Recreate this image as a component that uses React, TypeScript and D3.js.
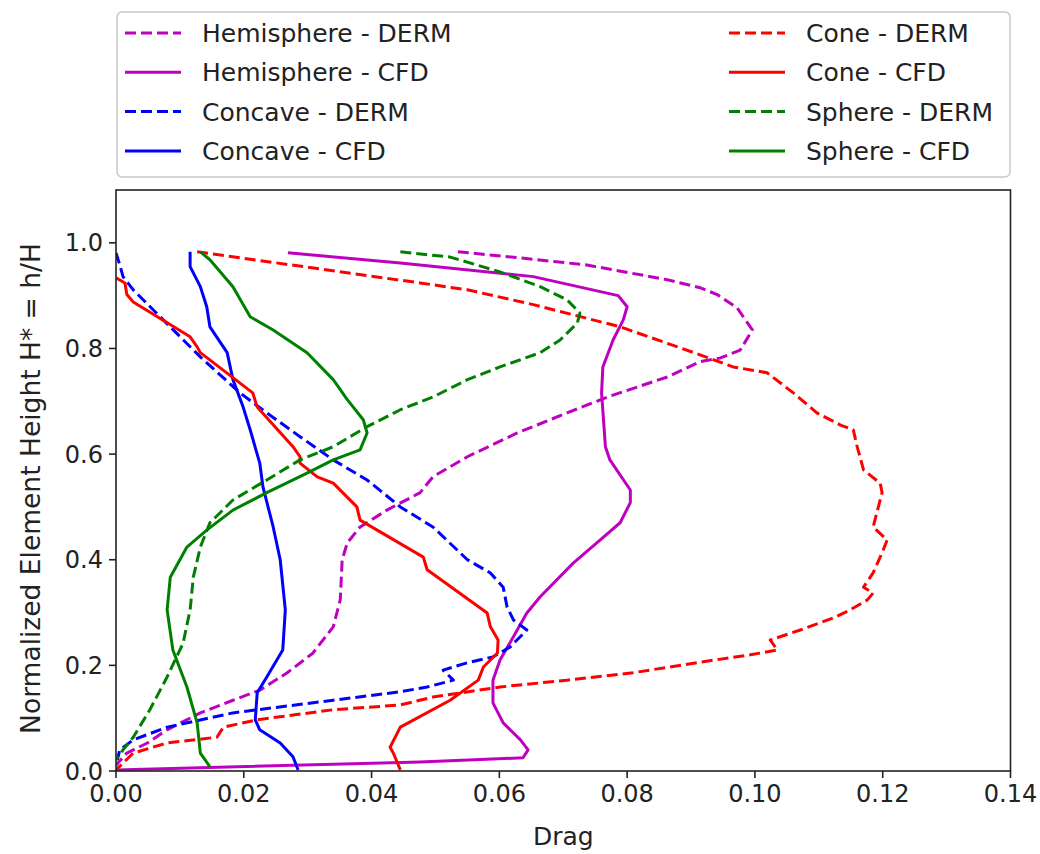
import React from "react";
import * as d3 from "d3";

type P = [number, number];

const xTicks = [0, 0.02, 0.04, 0.06, 0.08, 0.1, 0.12, 0.14];
const yTicks = [0, 0.2, 0.4, 0.6, 0.8, 1.0];

const hemisphereDERM: P[] = [
  [0.0535, 0.983], [0.0628, 0.972], [0.0737, 0.958], [0.0863, 0.93], [0.0914, 0.915],
  [0.0941, 0.902], [0.0972, 0.877], [0.0996, 0.835], [0.0977, 0.797], [0.0946, 0.782],
  [0.0914, 0.775], [0.0863, 0.746], [0.0769, 0.708], [0.0706, 0.678], [0.0628, 0.64],
  [0.055, 0.595], [0.0496, 0.557], [0.0476, 0.527], [0.0424, 0.494], [0.0382, 0.462],
  [0.0362, 0.432], [0.0354, 0.4], [0.0351, 0.324], [0.034, 0.273], [0.0308, 0.223],
  [0.0268, 0.186], [0.0225, 0.153], [0.0183, 0.134], [0.0132, 0.11], [0.008, 0.078],
  [0.0049, 0.053], [0.0017, 0.034], [0.0, 0.011],
];

const hemisphereCFD: P[] = [
  [0.0, 0.002], [0.0476, 0.017], [0.0637, 0.025], [0.0645, 0.04], [0.0633, 0.059],
  [0.0606, 0.091], [0.059, 0.129], [0.059, 0.172], [0.0601, 0.21], [0.0622, 0.254],
  [0.0643, 0.299], [0.0664, 0.33], [0.0716, 0.394], [0.0758, 0.4375], [0.0789, 0.47],
  [0.0805, 0.508], [0.0805, 0.532], [0.0773, 0.589], [0.0766, 0.614], [0.076, 0.716],
  [0.0762, 0.765], [0.0778, 0.816], [0.0794, 0.854], [0.08, 0.879], [0.0786, 0.9],
  [0.0653, 0.936], [0.0445, 0.962], [0.0269, 0.981],
];

const concaveDERM: P[] = [
  [0.0, 0.981], [0.0006, 0.958], [0.0011, 0.936], [0.0027, 0.911], [0.0074, 0.854],
  [0.0132, 0.784], [0.0194, 0.716], [0.0236, 0.678], [0.0288, 0.633], [0.034, 0.589],
  [0.0393, 0.551], [0.0445, 0.5], [0.0496, 0.462], [0.055, 0.4], [0.0586, 0.375],
  [0.0606, 0.348], [0.0612, 0.311], [0.0622, 0.286], [0.0643, 0.267], [0.0617, 0.235],
  [0.059, 0.216], [0.055, 0.205], [0.0512, 0.191], [0.0528, 0.172], [0.0487, 0.159],
  [0.0445, 0.15], [0.034, 0.134], [0.0183, 0.11], [0.008, 0.083], [0.0027, 0.059],
  [0.0006, 0.04], [0.0002, 0.021],
];

const concaveCFD: P[] = [
  [0.0116, 0.983], [0.0116, 0.955], [0.0132, 0.917], [0.0142, 0.879], [0.0147, 0.841],
  [0.0174, 0.792], [0.0183, 0.741], [0.0199, 0.689], [0.021, 0.646], [0.0225, 0.583],
  [0.023, 0.538], [0.0246, 0.462], [0.0257, 0.4], [0.0265, 0.305], [0.0261, 0.229],
  [0.0236, 0.178], [0.0221, 0.148], [0.0218, 0.097], [0.0225, 0.078], [0.0257, 0.053],
  [0.0277, 0.027], [0.0285, 0.002],
];

const coneDERM: P[] = [
  [0.0127, 0.983], [0.0476, 0.924], [0.055, 0.911], [0.0653, 0.883], [0.0789, 0.841],
  [0.0914, 0.788], [0.0966, 0.765], [0.1019, 0.754], [0.106, 0.716], [0.1097, 0.678],
  [0.1134, 0.655], [0.1154, 0.646], [0.116, 0.614], [0.117, 0.57], [0.1196, 0.545],
  [0.1199, 0.527], [0.1185, 0.462], [0.1207, 0.4375], [0.1199, 0.413], [0.1185, 0.375],
  [0.117, 0.348], [0.1185, 0.337], [0.1176, 0.324], [0.1149, 0.305], [0.1123, 0.29],
  [0.1071, 0.267], [0.1024, 0.248], [0.1035, 0.229], [0.0993, 0.22], [0.0914, 0.206],
  [0.0809, 0.186], [0.0706, 0.172], [0.0601, 0.159], [0.0496, 0.14], [0.0445, 0.125],
  [0.034, 0.116], [0.0221, 0.097], [0.0168, 0.083], [0.0158, 0.064], [0.008, 0.053],
  [0.0027, 0.034], [0.0, 0.002],
];

const coneCFD: P[] = [
  [0.0, 0.934], [0.0014, 0.924], [0.0017, 0.902], [0.0027, 0.888], [0.0116, 0.822],
  [0.0127, 0.803], [0.0132, 0.792], [0.0214, 0.716], [0.0221, 0.689], [0.0277, 0.614],
  [0.0288, 0.595], [0.0288, 0.583], [0.0315, 0.557], [0.034, 0.545], [0.0377, 0.5],
  [0.0382, 0.475], [0.0481, 0.405], [0.0487, 0.381], [0.0581, 0.299], [0.0586, 0.273],
  [0.0598, 0.248], [0.0597, 0.2235], [0.0575, 0.197], [0.0567, 0.172], [0.0523, 0.134],
  [0.0445, 0.083], [0.0429, 0.045], [0.0434, 0.034], [0.0445, 0.002],
];

const sphereDERM: P[] = [
  [0.0445, 0.983], [0.0523, 0.973], [0.0601, 0.945], [0.0664, 0.917], [0.0706, 0.892],
  [0.0726, 0.867], [0.0722, 0.848], [0.0695, 0.816], [0.0664, 0.792], [0.0601, 0.765],
  [0.055, 0.741], [0.0496, 0.708], [0.0445, 0.684], [0.0393, 0.652], [0.034, 0.614],
  [0.0288, 0.589], [0.0236, 0.551], [0.0183, 0.513], [0.0147, 0.47], [0.0132, 0.424],
  [0.0121, 0.367], [0.0116, 0.305], [0.0105, 0.242], [0.008, 0.178], [0.0053, 0.116],
  [0.0027, 0.064], [0.0011, 0.04], [0.0, 0.021],
];

const sphereCFD: P[] = [
  [0.0132, 0.983], [0.0147, 0.968], [0.0183, 0.917], [0.021, 0.86], [0.0246, 0.835],
  [0.0299, 0.792], [0.034, 0.741], [0.0362, 0.703], [0.0387, 0.665], [0.0393, 0.64],
  [0.0382, 0.608], [0.034, 0.589], [0.0299, 0.564], [0.0236, 0.527], [0.0183, 0.494],
  [0.0142, 0.456], [0.0111, 0.424], [0.0085, 0.367], [0.008, 0.305], [0.0089, 0.229],
  [0.0111, 0.159], [0.0127, 0.091], [0.0132, 0.034], [0.0147, 0.008],
];

const seriesLabels = [
  "Hemisphere - DERM", "Hemisphere - CFD", "Concave - DERM", "Concave - CFD",
  "Cone - DERM", "Cone - CFD", "Sphere - DERM", "Sphere - CFD",
];
const seriesData = [
  hemisphereDERM, hemisphereCFD, concaveDERM, concaveCFD,
  coneDERM, coneCFD, sphereDERM, sphereCFD,
];
const seriesColors = ["#bf00bf", "#bf00bf", "#0000ff", "#0000ff", "#ff0000", "#ff0000", "#008000", "#008000"];
const seriesDashed = [true, false, true, false, true, false, true, false];

const W = 1040;
const H = 854;
const left = 116;
const right = 1010.5;
const top = 190;
const bottom = 771;
const FONT = "DejaVu Sans, sans-serif";

export default function App() {
  const x = d3.scaleLinear().domain([0, 0.14]).range([left, right]);
  const y = d3.scaleLinear().domain([0, 1.1]).range([bottom, top]);
  const line = d3.line<P>().x((d) => x(d[0])).y((d) => y(d[1]));
  const dash = "11,5";
  const lw = 3;

  const legLeftX = 125;
  const legRightX = 729;
  const legRowY = [33, 72.3, 111.6, 151];

  return (
    <svg width={W} height={H} style={{ position: "absolute", left: 0, top: 0, background: "#fff" }} fontFamily={FONT}>
      <defs>
        <clipPath id="plotclip">
          <rect x={left} y={top} width={right - left} height={bottom - top} />
        </clipPath>
      </defs>
      <rect x={0} y={0} width={W} height={H} fill="#fff" />

      <g clipPath="url(#plotclip)">
        {seriesData.map((s, i) => (
          <path
            key={i}
            d={line(s) || ""}
            fill="none"
            stroke={seriesColors[i]}
            strokeWidth={lw}
            strokeDasharray={seriesDashed[i] ? dash : undefined}
            strokeLinejoin="round"
          />
        ))}
      </g>

      <rect x={left} y={top} width={right - left} height={bottom - top} fill="none" stroke="#222" strokeWidth={1.6} />

      {xTicks.map((t) => (
        <g key={"x" + t}>
          <line x1={x(t)} x2={x(t)} y1={bottom} y2={bottom + 7} stroke="#222" strokeWidth={1.6} />
          <text x={x(t)} y={bottom + 31} textAnchor="middle" fontSize={24} fill="#222">
            {t.toFixed(2)}
          </text>
        </g>
      ))}
      {yTicks.map((t) => (
        <g key={"y" + t}>
          <line x1={left - 7} x2={left} y1={y(t)} y2={y(t)} stroke="#222" strokeWidth={1.6} />
          <text x={left - 13} y={y(t)} dy="0.36em" textAnchor="end" fontSize={24} fill="#222">
            {t.toFixed(1)}
          </text>
        </g>
      ))}

      <text x={(left + right) / 2} y={845} textAnchor="middle" fontSize={25} fill="#222">
        Drag
      </text>
      <text
        transform={`translate(40,${(top + bottom) / 2 + 8}) rotate(-90)`}
        textAnchor="middle"
        fontSize={26.5}
        fill="#222"
      >
        Normalized Element Height H* = h/H
      </text>

      <rect x={117} y={12} width={893} height={165} rx={5} fill="#fff" stroke="#c8c8c8" strokeWidth={1.5} />
      {seriesLabels.map((lab, i) => {
        const col = i < 4 ? 0 : 1;
        const row = i % 4;
        const hx = col === 0 ? legLeftX : legRightX;
        const cy = legRowY[row];
        return (
          <g key={lab}>
            <line
              x1={hx}
              x2={hx + 56}
              y1={cy}
              y2={cy}
              stroke={seriesColors[i]}
              strokeWidth={lw}
              strokeDasharray={seriesDashed[i] ? dash : undefined}
            />
            <text x={hx + 77} y={cy} dy="0.36em" fontSize={25} fill="#222">
              {lab}
            </text>
          </g>
        );
      })}
    </svg>
  );
}
